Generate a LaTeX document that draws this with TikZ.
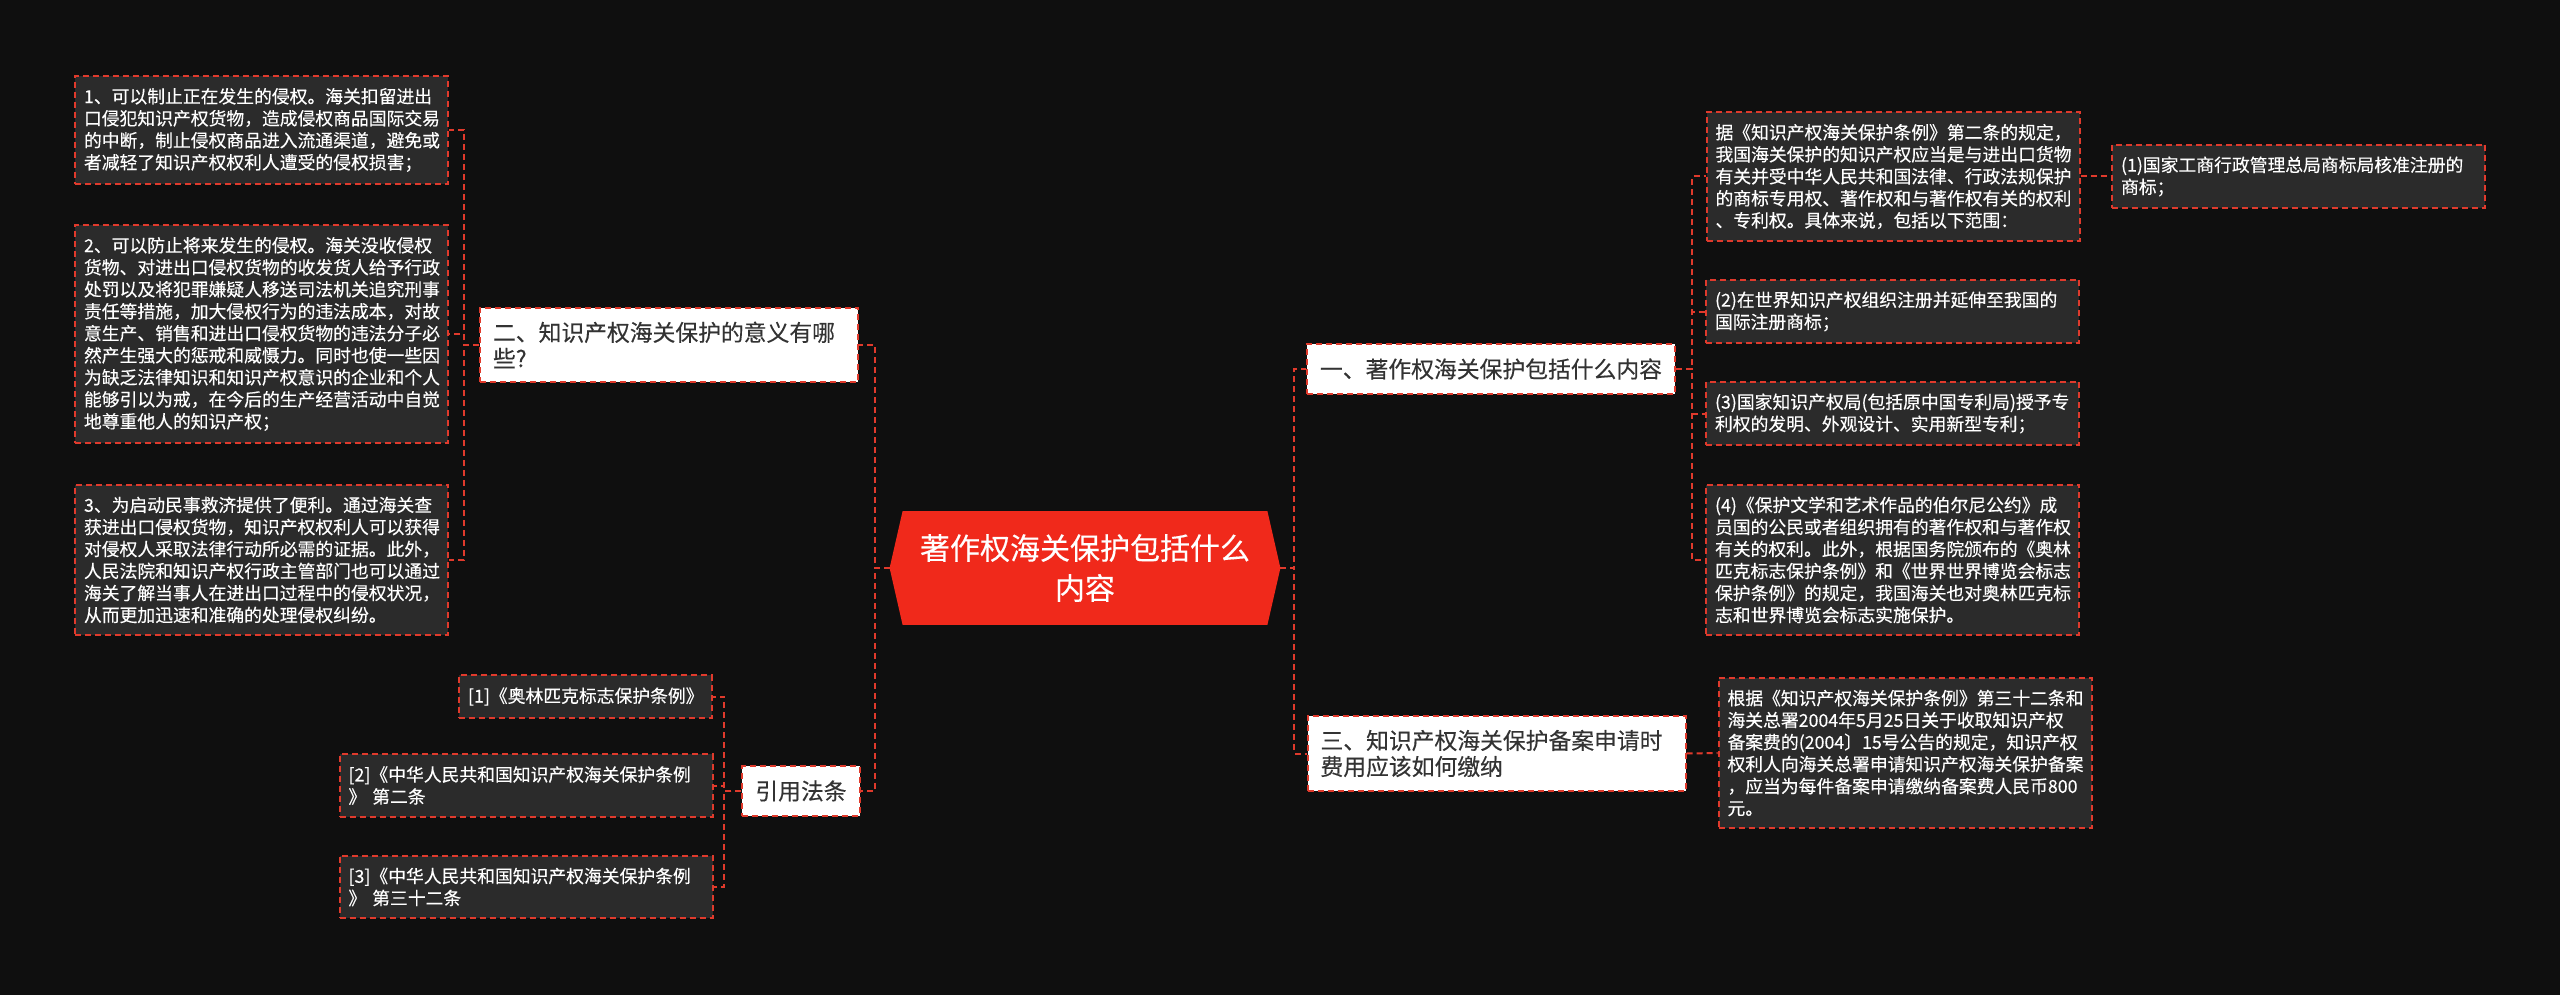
\documentclass[tikz,border=0pt]{standalone}
\usepackage{fontspec}
\setmainfont[FakeBold=0.3]{Noto Sans CJK SC}
\usetikzlibrary{backgrounds}
\definecolor{bgdark}{HTML}{0F0F0F}
\definecolor{leafgray}{HTML}{2B2B2B}
\definecolor{dashred}{HTML}{E03A2C}
\definecolor{rootred}{HTML}{F0291B}
\definecolor{inkgray}{HTML}{333333}
\begin{document}
\begin{tikzpicture}[x=0.5pt,y=-0.5pt]
	\tikzset{redash/.style={draw=dashred,line width=1pt,dash pattern=on 3pt off 2pt},
		leaf/.style={redash,fill=leafgray,text=white,align=left,text width=177.5pt,inner xsep=4.5pt,inner ysep=6pt,font=\fontsize{8.9pt}{11pt}\selectfont},
		topic/.style={redash,fill=white,text=inkgray,align=left,inner xsep=6.5pt,inner ysep=7pt,font=\fontsize{11.4pt}{13pt}\selectfont},
		root/.style={text=white,align=center,minimum width=195pt,minimum height=56.5pt,font=\fontsize{15pt}{20pt}\selectfont},
		link/.style={redash}}
	\node[root] (O) at (1085,568) {著作权海关保护包括什么\\内容};
	\node[topic,text width=176pt] (L1) at (669,345) {二、知识产权海关保护的意义有哪\\些?};
	\node[topic] (L2) at (801,791) {引用法条};
	\node[topic] (R1) at (1491,369) {一、著作权海关保护包括什么内容};
	\node[topic,text width=176pt] (R2) at (1496.5,753.5) {三、知识产权海关保护备案申请时\\费用应该如何缴纳};
	\node[leaf] (L11) at (261.5,130) {1、可以制止正在发生的侵权。海关扣留进出\\口侵犯知识产权货物，造成侵权商品国际交易\\的中断，制止侵权商品进入流通渠道，避免或\\者减轻了知识产权权利人遭受的侵权损害；};
	\node[leaf] (L12) at (261.5,334) {2、可以防止将来发生的侵权。海关没收侵权\\货物、对进出口侵权货物的收发货人给予行政\\处罚以及将犯罪嫌疑人移送司法机关追究刑事\\责任等措施，加大侵权行为的违法成本，对故\\意生产、销售和进出口侵权货物的违法分子必\\然产生强大的惩戒和威慑力。同时也使一些因\\为缺乏法律知识和知识产权意识的企业和个人\\能够引以为戒，在今后的生产经营活动中自觉\\地尊重他人的知识产权；};
	\node[leaf] (L13) at (261.5,560) {3、为启动民事救济提供了便利。通过海关查\\获进出口侵权货物，知识产权权利人可以获得\\对侵权人采取法律行动所必需的证据。此外，\\人民法院和知识产权行政主管部门也可以通过\\海关了解当事人在进出口过程中的侵权状况，\\从而更加迅速和准确的处理侵权纠纷。};
	\node[leaf,text width=117.5pt] (L21) at (585.5,696.5) {[1]《奥林匹克标志保护条例》};
	\node[leaf] (L22) at (526,785.5) {[2]《中华人民共和国知识产权海关保护条例\\》 第二条};
	\node[leaf] (L23) at (526,887) {[3]《中华人民共和国知识产权海关保护条例\\》 第三十二条};
	\node[leaf] (R11) at (1893,176.5) {据《知识产权海关保护条例》第二条的规定，\\我国海关保护的知识产权应当是与进出口货物\\有关并受中华人民共和国法律、行政法规保护\\的商标专用权、著作权和与著作权有关的权利\\、专利权。具体来说，包括以下范围：};
	\node[leaf] (R111) at (2298.5,176.5) {(1)国家工商行政管理总局商标局核准注册的\\商标；};
	\node[leaf] (R12) at (1892.5,311.5) {(2)在世界知识产权组织注册并延伸至我国的\\国际注册商标；};
	\node[leaf] (R13) at (1892.5,413.5) {(3)国家知识产权局(包括原中国专利局)授予专\\利权的发明、外观设计、实用新型专利；};
	\node[leaf] (R14) at (1892.5,560) {(4)《保护文学和艺术作品的伯尔尼公约》成\\员国的公民或者组织拥有的著作权和与著作权\\有关的权利。此外，根据国务院颁布的《奥林\\匹克标志保护条例》和《世界世界博览会标志\\保护条例》的规定，我国海关也对奥林匹克标\\志和世界博览会标志实施保护。};
	\node[leaf] (R21) at (1905,753) {根据《知识产权海关保护条例》第三十二条和\\海关总署2004年5月25日关于收取知识产权\\备案费的(2004〕15号公告的规定，知识产权\\权利人向海关总署申请知识产权海关保护备案\\，应当为每件备案申请缴纳备案费人民币800\\元。};
	\begin{scope}[on background layer]
		\fill[bgdark] (0,0) rectangle (2560,995);
		\fill[rootred] ([xshift=6.5pt]O.north west) -- ([xshift=-6.5pt]O.north east) -- (O.east) -- ([xshift=-6.5pt]O.south east) -- ([xshift=6.5pt]O.south west) -- (O.west) -- cycle;
	\end{scope}
	\foreach \n in {L1,L2} \draw[link] (O.west) -- ++(-15,0) |- (\n.east);
	\foreach \n in {R1,R2} \draw[link] (O.east) -- ++(14,0) |- (\n.west);
	\foreach \n in {L11,L12,L13} \draw[link] (L1.west) -- ++(-15,0) |- (\n.east);
	\foreach \n in {L21,L22,L23} \draw[link] (L2.west) -- ++(-17,0) |- (\n.east);
	\foreach \n in {R11,R12,R13,R14} \draw[link] (R1.east) -- ++(16,0) |- (\n.west);
	\draw[link] (R11.east) -- (R111.west);
	\draw[link] (R2.east) -- (R21.west);
\end{tikzpicture}
\end{document}
